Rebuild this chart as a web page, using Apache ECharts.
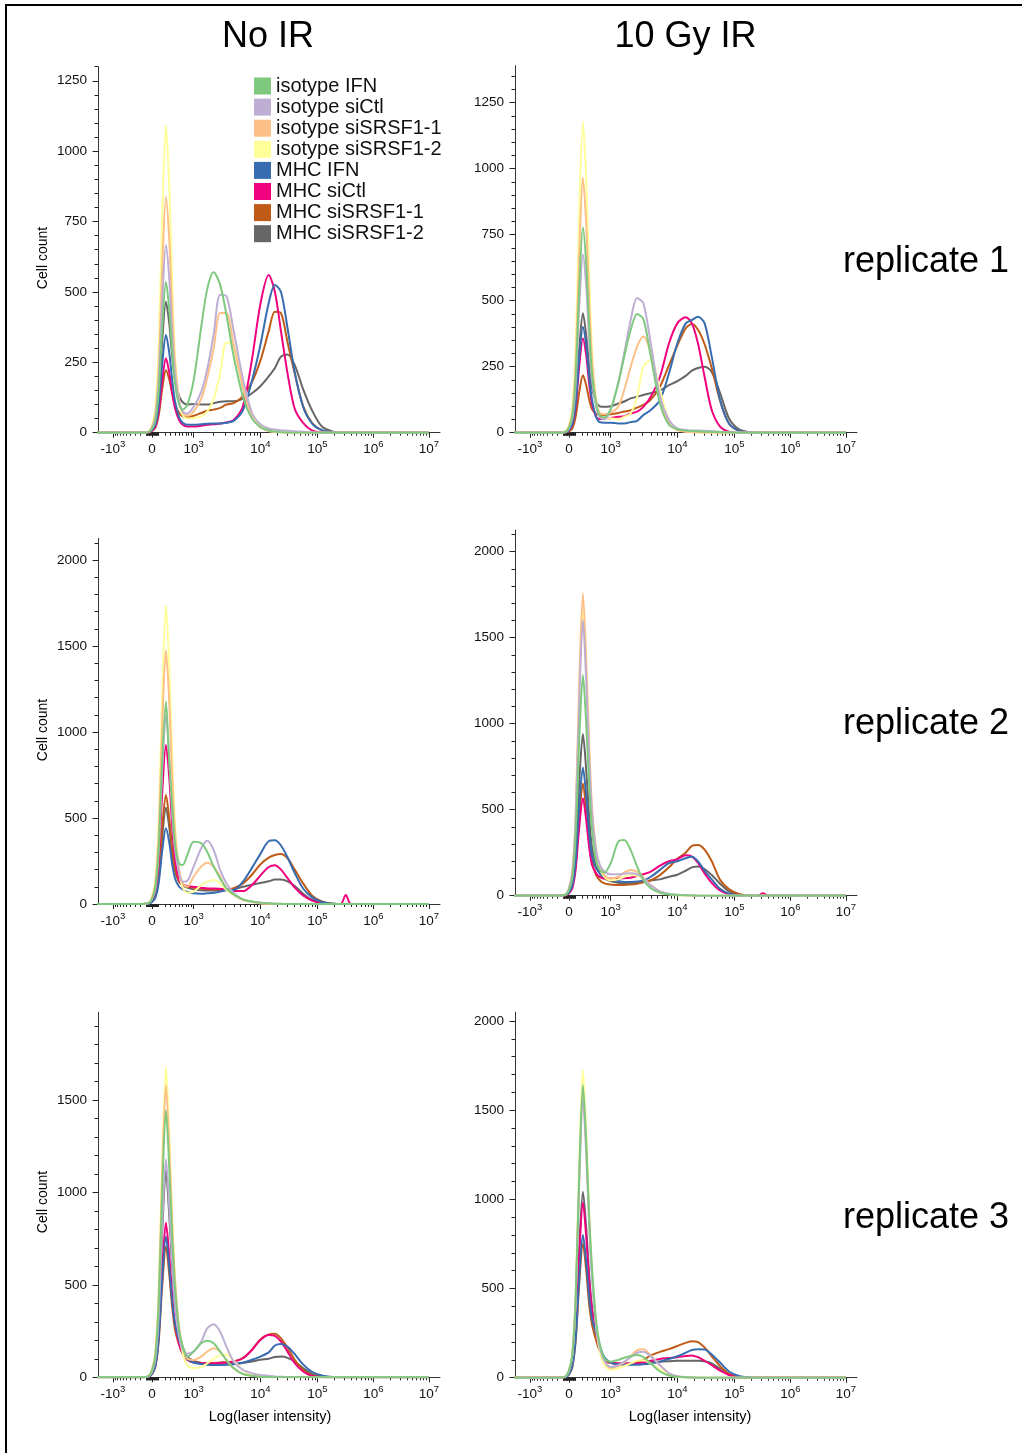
<!DOCTYPE html>
<html>
<head>
<meta charset="utf-8">
<title>MHC surface staining, flow cytometry histograms</title>
<script src="https://cdn.jsdelivr.net/npm/echarts@6.0.0/dist/echarts.min.js"></script>
<style>
  html, body { margin: 0; padding: 0; background: #ffffff; }
  #chart { width: 1024px; height: 1453px; }
</style>
</head>
<body>
<div id="chart"></div>
<script>
// ---------------------------------------------------------------------------
// Samples (legend order) and the intensity bins shared by every histogram
// ---------------------------------------------------------------------------
const SAMPLES = ['isotype IFN', 'isotype siCtl', 'isotype siSRSF1-1', 'isotype siSRSF1-2',
                 'MHC IFN', 'MHC siCtl', 'MHC siSRSF1-1', 'MHC siSRSF1-2'];

const INTENSITY = [-2000, -150, -50, 0, 50, 100, 160, 220, 280, 340, 400, 500, 600, 750,
                   1000, 1300, 1600, 2000, 2500, 3100, 4000, 5500, 7500, 10000, 14000, 18000,
                   23000, 30000, 40000, 56000, 80000, 120000, 200000, 260000, 320000, 400000, 10000000];

// major x ticks: base "10" with the exponent set as a superscript
const X_TICK_VALUES = [-1000, 0, 1000, 1e4, 1e5, 1e6, 1e7];
const X_TICK_BASES = ['-10', '0', '10', '10', '10', '10', '10'];
const X_TICK_EXPONENTS = ['3', '', '3', '4', '5', '6', '7'];

const Y_TICKS_REP1 = [0, 250, 500, 750, 1000, 1250];
const Y_TICKS_REP2 = [0, 500, 1000, 1500, 2000];
const Y_TICKS_NOIR_REP3 = [0, 500, 1000, 1500];
const Y_TICKS_IR_REP3 = [0, 500, 1000, 1500, 2000];

// ---- No IR, replicate 1 ----
const noIR1_isotypeIFN    = [0,0,3,13,43,145,385,536,440,285,175,100,82,100,185,375,510,570,525,420,270,128,50,20,8,4,2,0,0,0,0,0,0,0,0,0,0];
const noIR1_isotypeSiCtl  = [0,0,3,17,53,180,480,667,550,350,205,110,75,68,92,145,225,350,490,485,360,190,70,30,15,11,9,7,5,3,1,0,0,0,0,0,0];
const noIR1_isotypeSRSF1a = [0,0,4,21,67,226,600,838,690,435,250,115,72,60,75,120,195,300,425,425,310,160,55,20,6,3,1,0,0,0,0,0,0,0,0,0,0];
const noIR1_isotypeSRSF1b = [0,0,5,27,87,295,787,1093,880,540,280,110,62,50,52,58,75,120,210,320,310,180,70,25,8,3,1,0,0,0,0,0,0,0,0,0,0];
const noIR1_mhcIFN        = [0,0,2,9,28,94,250,347,285,185,112,55,35,28,28,30,32,33,33,35,42,80,185,310,460,525,500,370,215,92,33,9,1,0,0,0,0];
const noIR1_mhcSiCtl      = [0,0,1,7,21,71,190,264,215,140,88,45,28,22,22,25,28,30,33,36,45,95,260,455,560,500,360,210,85,35,8,1,0,0,0,0,0];
const noIR1_mhcSRSF1a     = [0,0,1,6,18,60,160,222,190,140,100,70,58,55,60,70,78,82,88,100,105,130,180,255,360,430,425,320,210,95,35,8,1,0,0,0,0];
const noIR1_mhcSRSF1b     = [0,0,2,12,37,125,335,465,390,270,190,130,108,100,102,100,100,105,110,112,112,120,140,165,200,230,270,278,240,155,80,22,2,0,0,0,0];

// ---- 10 Gy IR, replicate 1 ----
const ir1_isotypeIFN    = [0,0,4,20,62,210,560,778,640,400,225,110,65,58,88,187,288,390,450,430,290,111,30,13,8,6,5,4,3,2,1,0,0,0,0,0,0];
const ir1_isotypeSiCtl  = [0,0,3,17,54,180,485,675,555,350,200,100,60,50,86,187,300,427,510,490,338,136,48,16,10,8,8,7,6,4,2,0,0,0,0,0,0];
const ir1_isotypeSRSF1a = [0,0,5,24,77,260,695,967,790,500,280,120,75,70,75,98,162,250,326,364,300,136,35,10,4,2,1,0,0,0,0,0,0,0,0,0,0];
const ir1_isotypeSRSF1b = [0,0,6,30,95,320,850,1178,960,600,320,125,65,50,55,50,60,73,136,250,275,162,48,16,5,2,1,0,0,0,0,0,0,0,0,0,0];
const ir1_mhcIFN        = [0,0,2,10,32,108,290,400,330,210,125,60,40,38,38,35,35,40,45,67,86,124,225,338,414,427,439,414,288,124,35,8,1,0,0,0,0];
const ir1_mhcSiCtl      = [0,0,2,9,29,96,257,357,293,185,110,60,52,52,55,60,62,73,80,98,136,212,338,414,437,414,338,212,86,23,4,0,0,0,0,0,0];
const ir1_mhcSRSF1a     = [0,0,1,5,17,59,157,218,180,125,90,72,68,67,70,75,80,85,95,105,125,175,255,330,395,412,390,335,245,120,35,8,1,0,0,0,0];
const ir1_mhcSRSF1b     = [0,0,2,11,36,122,325,452,370,250,170,118,100,98,100,110,118,130,136,143,150,160,180,195,215,235,245,250,230,150,55,13,1,0,0,0,0];

// ---- No IR, replicate 2 ----
const noIR2_isotypeIFN    = [0,0,6,30,95,320,850,1176,830,566,353,236,227,285,362,353,304,217,149,91,56,27,14,8,4,2,1,0,0,0,0,0,0,0,0,0,0];
const noIR2_isotypeSiCtl  = [0,0,5,28,88,300,795,1100,850,520,320,180,130,135,217,324,368,314,198,120,62,27,14,8,4,2,1,0,0,0,0,0,0,0,0,0,0];
const noIR2_isotypeSRSF1a = [0,0,7,37,118,400,1065,1477,1180,740,420,200,120,100,159,217,240,217,159,91,52,23,12,5,2,1,0,0,0,0,0,0,0,0,0,0,0];
const noIR2_isotypeSRSF1b = [0,0,9,43,139,470,1250,1738,1390,860,470,190,95,65,72,110,130,140,120,81,52,27,14,5,2,1,0,0,0,0,0,0,0,0,0,0,0];
const noIR2_mhcIFN        = [0,0,2,11,35,119,317,440,360,230,150,100,85,70,62,60,62,65,72,80,82,130,210,290,365,370,340,270,180,90,40,12,1,0,0,0,0];
const noIR2_mhcSiCtl      = [0,0,5,23,74,250,665,924,740,450,260,140,115,105,100,95,90,90,88,85,75,75,110,165,215,226,200,150,95,50,20,5,0,0,52,0,0];
const noIR2_mhcSRSF1a     = [0,0,3,16,51,171,456,634,500,320,200,130,110,100,95,90,85,85,85,85,92,120,170,230,270,285,290,265,200,120,50,15,1,0,0,0,0];
const noIR2_mhcSRSF1b     = [0,0,3,14,45,151,403,560,450,290,190,130,110,95,85,80,78,78,80,82,88,100,112,122,132,142,142,132,105,60,25,6,0,0,0,0,0];

// ---- 10 Gy IR, replicate 2 ----
const ir2_isotypeIFN    = [0,0,6,32,103,346,924,1283,1000,640,385,200,150,135,188,314,324,265,169,91,43,17,8,4,2,1,0,0,0,0,0,0,0,0,0,0,0];
const ir2_isotypeSiCtl  = [0,0,8,40,128,433,1154,1603,1250,800,480,260,180,140,125,125,128,130,125,100,60,25,10,5,2,1,0,0,0,0,0,0,0,0,0,0,0];
const ir2_isotypeSRSF1a = [0,0,9,44,141,475,1266,1758,1370,880,520,270,175,120,100,110,135,150,140,105,60,25,10,4,2,1,0,0,0,0,0,0,0,0,0,0,0];
const ir2_isotypeSRSF1b = [0,0,8,41,132,446,1188,1650,1290,820,480,250,160,110,90,95,110,120,115,95,55,20,8,3,1,0,0,0,0,0,0,0,0,0,0,0,0];
const ir2_mhcIFN        = [0,0,4,19,60,201,537,746,580,360,230,160,130,110,95,85,80,80,82,88,110,150,190,200,218,226,200,145,95,40,12,3,0,0,0,0,0];
const ir2_mhcSiCtl      = [0,0,3,14,45,153,408,566,440,280,180,130,110,100,100,100,102,105,115,125,140,175,200,212,235,228,190,130,75,30,8,1,0,0,14,0,0];
const ir2_mhcSRSF1a     = [0,0,3,16,52,176,470,653,500,320,200,120,90,72,65,62,62,65,70,78,90,120,165,215,250,290,295,268,200,92,38,10,0,0,0,0,0];
const ir2_mhcSRSF1b     = [0,0,5,24,75,254,677,940,730,460,280,180,130,100,85,75,72,72,75,80,88,95,110,122,145,165,170,155,120,70,25,5,0,0,0,0,0];

// ---- No IR, replicate 3 ----
const noIR3_isotypeIFN    = [0,0,7,36,116,390,1040,1446,1140,760,490,260,165,110,139,184,198,184,139,94,49,18,8,3,1,0,0,0,0,0,0,0,0,0,0,0,0];
const noIR3_isotypeSiCtl  = [0,0,6,29,94,318,850,1179,930,620,400,220,150,128,139,193,265,287,247,166,85,40,22,12,8,5,3,1,0,0,0,0,0,0,0,0,0];
const noIR3_isotypeSRSF1a = [0,0,8,40,126,427,1140,1581,1250,830,530,270,160,100,94,112,139,157,139,94,49,18,8,3,1,0,0,0,0,0,0,0,0,0,0,0,0];
const noIR3_isotypeSRSF1b = [0,0,8,42,134,454,1210,1680,1320,870,540,250,130,65,50,55,75,100,120,122,90,40,12,4,1,0,0,0,0,0,0,0,0,0,0,0,0];
const noIR3_mhcIFN        = [0,0,4,19,61,205,548,761,600,410,290,200,150,100,80,72,68,67,67,68,70,80,95,112,135,172,180,165,125,70,30,10,1,0,0,0,0];
const noIR3_mhcSiCtl      = [0,0,4,21,67,226,602,836,660,440,290,180,130,95,80,76,76,76,78,80,85,103,148,202,229,224,193,139,76,31,7,1,0,0,0,0,0];
const noIR3_mhcSRSF1a     = [0,0,4,18,57,191,509,707,560,380,260,175,125,95,82,78,78,78,80,82,85,105,150,205,232,235,210,160,95,40,10,2,0,0,0,0,0];
const noIR3_mhcSRSF1b     = [0,0,6,28,90,302,806,1120,880,600,400,240,165,110,90,78,72,70,70,70,72,78,85,95,100,110,112,105,85,50,18,5,0,0,0,0,0];

// ---- 10 Gy IR, replicate 3 ----
const ir3_isotypeIFN    = [0,0,8,41,131,443,1180,1641,1330,900,620,320,190,108,90,100,112,122,127,115,80,35,12,5,2,1,0,0,0,0,0,0,0,0,0,0,0];
const ir3_isotypeSiCtl  = [0,0,8,39,125,421,1123,1560,1260,850,560,290,170,95,60,70,90,115,140,145,120,70,25,8,3,1,0,0,0,0,0,0,0,0,0,0,0];
const ir3_isotypeSRSF1a = [0,0,8,40,128,432,1152,1600,1290,870,580,300,170,95,55,65,85,120,155,160,125,70,25,8,3,1,0,0,0,0,0,0,0,0,0,0,0];
const ir3_isotypeSRSF1b = [0,0,9,43,138,466,1242,1725,1390,930,600,290,150,70,45,52,65,80,95,98,80,45,15,5,2,0,0,0,0,0,0,0,0,0,0,0,0];
const ir3_mhcIFN        = [0,0,4,20,64,216,576,800,650,450,330,250,180,115,85,75,72,72,73,75,80,90,105,120,140,155,160,158,130,85,35,10,1,0,0,0,0];
const ir3_mhcSiCtl      = [0,0,5,25,79,265,708,983,790,540,380,250,165,105,85,80,80,80,82,85,95,105,110,115,122,125,115,95,70,40,15,3,0,0,0,0,0];
const ir3_mhcSRSF1a     = [0,0,4,19,60,203,542,753,600,410,300,210,150,100,82,80,80,82,85,100,125,145,160,178,195,205,200,170,120,65,22,5,0,0,0,0,0];
const ir3_mhcSRSF1b     = [0,0,5,26,83,282,751,1043,840,570,400,260,170,110,85,78,75,75,77,80,88,90,92,95,95,95,95,92,80,50,18,4,0,0,0,0,0];

// ---------------------------------------------------------------------------
// Styling
// ---------------------------------------------------------------------------
const SAMPLE_COLORS = ['#7fc97f', '#beaed4', '#fdc086', '#ffff99',
                       '#386cb0', '#f0027f', '#bf5b17', '#666666'];
const FONT = '"Liberation Sans", Arial, Helvetica, sans-serif';
const AXIS_COLOR = '#333333';

// ---------------------------------------------------------------------------
// Biexponential display scale: arcsinh near zero, logarithmic per decade above 10^3
// ---------------------------------------------------------------------------
const LIN_WIDTH = 350;
const POS_SPAN = 41.6;   // display units from 0 to 10^3
const NEG_SPAN = 39;     // display units from 0 to -10^3
const DECADE_POS = [[3, 41.6], [4, 108.3], [5, 165.5], [6, 221.5], [7, 277]];
const X_MIN = -54, X_MAX = 288;

function toDisplay(v) {
  const a = Math.asinh(1000 / LIN_WIDTH);
  if (v >= 0 && v <= 1000) return POS_SPAN * Math.asinh(v / LIN_WIDTH) / a;
  if (v < 0 && v >= -1000) return NEG_SPAN * Math.asinh(v / LIN_WIDTH) / a;
  if (v < -1000) return -NEG_SPAN - 55 * Math.log10(-v / 1000);
  const d = Math.log10(v);
  for (let i = 0; i < DECADE_POS.length - 1; i++) {
    const [d0, p0] = DECADE_POS[i];
    const [d1, p1] = DECADE_POS[i + 1];
    if (d <= d1) return p0 + (p1 - p0) * (d - d0) / (d1 - d0);
  }
  return 277 + 55.5 * (d - 7);
}

// minor ticks of the biexponential axis
const X_MINOR_VALUES = [];
for (let k = 1; k <= 9; k++) {
  X_MINOR_VALUES.push(-k * 10, k * 10, -k * 100, k * 100);
}
for (let e = 3; e <= 6; e++) {
  for (let k = 2; k <= 9; k++) X_MINOR_VALUES.push(k * Math.pow(10, e));
}
const X_MAJOR_POS = X_TICK_VALUES.map(toDisplay);
const X_MINOR_POS = X_MINOR_VALUES.map(toDisplay).filter(p => p > X_MIN && p < X_MAX);

function xLabel(value) {
  for (let i = 0; i < X_MAJOR_POS.length; i++) {
    if (Math.abs(X_MAJOR_POS[i] - value) < 0.01) {
      const exp = X_TICK_EXPONENTS[i];
      return '{b|' + X_TICK_BASES[i] + '}' + (exp ? '{e|' + exp + '}' : '');
    }
  }
  return '';
}

// ---------------------------------------------------------------------------
// Panel layout
// ---------------------------------------------------------------------------
const COL_LEFT = [98, 515];
const PANEL_WIDTH = 342;

const PANELS = [
  { col: 0, top: 66.7,  height: 366,   yMax: 1300, yTicks: Y_TICKS_REP1, yMinorStep: 50,
    counts: [noIR1_isotypeIFN, noIR1_isotypeSiCtl, noIR1_isotypeSRSF1a, noIR1_isotypeSRSF1b,
             noIR1_mhcIFN, noIR1_mhcSiCtl, noIR1_mhcSRSF1a, noIR1_mhcSRSF1b] },
  { col: 1, top: 65.7,  height: 367,   yMax: 1390, yTicks: Y_TICKS_REP1, yMinorStep: 50,
    counts: [ir1_isotypeIFN, ir1_isotypeSiCtl, ir1_isotypeSRSF1a, ir1_isotypeSRSF1b,
             ir1_mhcIFN, ir1_mhcSiCtl, ir1_mhcSRSF1a, ir1_mhcSRSF1b] },
  { col: 0, top: 538.5, height: 365.5, yMax: 2125, yTicks: Y_TICKS_REP2, yMinorStep: 100,
    counts: [noIR2_isotypeIFN, noIR2_isotypeSiCtl, noIR2_isotypeSRSF1a, noIR2_isotypeSRSF1b,
             noIR2_mhcIFN, noIR2_mhcSiCtl, noIR2_mhcSRSF1a, noIR2_mhcSRSF1b] },
  { col: 1, top: 530.2, height: 365.5, yMax: 2125, yTicks: Y_TICKS_REP2, yMinorStep: 100,
    counts: [ir2_isotypeIFN, ir2_isotypeSiCtl, ir2_isotypeSRSF1a, ir2_isotypeSRSF1b,
             ir2_mhcIFN, ir2_mhcSiCtl, ir2_mhcSRSF1a, ir2_mhcSRSF1b] },
  { col: 0, top: 1012.2, height: 365.1, yMax: 1975, yTicks: Y_TICKS_NOIR_REP3, yMinorStep: 100,
    counts: [noIR3_isotypeIFN, noIR3_isotypeSiCtl, noIR3_isotypeSRSF1a, noIR3_isotypeSRSF1b,
             noIR3_mhcIFN, noIR3_mhcSiCtl, noIR3_mhcSRSF1a, noIR3_mhcSRSF1b] },
  { col: 1, top: 1012.1, height: 365.6, yMax: 2050, yTicks: Y_TICKS_IR_REP3, yMinorStep: 100,
    counts: [ir3_isotypeIFN, ir3_isotypeSiCtl, ir3_isotypeSRSF1a, ir3_isotypeSRSF1b,
             ir3_mhcIFN, ir3_mhcSiCtl, ir3_mhcSRSF1a, ir3_mhcSRSF1b] }
];

// ---------------------------------------------------------------------------
// Build grids, axes and series (each panel: one grid for major ticks + data,
// one overlapping grid carrying the short minor ticks)
// ---------------------------------------------------------------------------
const grids = [], xAxes = [], yAxes = [], series = [];

PANELS.forEach((p, i) => {
  const box = { left: COL_LEFT[p.col], top: p.top, width: PANEL_WIDTH, height: p.height,
                containLabel: false, outerBoundsMode: 'none' };
  grids.push(Object.assign({}, box), Object.assign({}, box));
  const gMajor = 2 * i, gMinor = 2 * i + 1;

  const yMinor = [];
  for (let v = p.yMinorStep; v <= p.yMax; v += p.yMinorStep) {
    if (p.yTicks.indexOf(v) < 0) yMinor.push(v);
  }

  xAxes.push({
    type: 'value', gridIndex: gMajor, min: X_MIN, max: X_MAX,
    axisLine: { show: true, onZero: false, lineStyle: { color: AXIS_COLOR, width: 1 } },
    axisTick: { show: true, customValues: X_MAJOR_POS, length: 5, lineStyle: { color: '#222', width: 1 } },
    axisLabel: {
      show: true, customValues: X_MAJOR_POS, formatter: xLabel, margin: 7,
      color: '#111', fontFamily: FONT,
      rich: {
        b: { fontSize: 13.5, lineHeight: 17, verticalAlign: 'bottom', color: '#111', fontFamily: FONT },
        e: { fontSize: 9.5, lineHeight: 10, verticalAlign: 'top', color: '#111', fontFamily: FONT }
      }
    },
    splitLine: { show: false }
  }, {
    type: 'value', gridIndex: gMinor, min: X_MIN, max: X_MAX,
    axisLine: { show: false, onZero: false },
    axisTick: { show: true, customValues: X_MINOR_POS, length: 3, lineStyle: { color: '#222', width: 1 } },
    axisLabel: { show: false },
    splitLine: { show: false }
  });

  yAxes.push({
    type: 'value', gridIndex: gMajor, min: 0, max: p.yMax,
    axisLine: { show: true, onZero: false, lineStyle: { color: AXIS_COLOR, width: 1 } },
    axisTick: { show: true, customValues: p.yTicks, length: 5.5, lineStyle: { color: '#222', width: 1 } },
    axisLabel: { show: true, customValues: p.yTicks, margin: 11, formatter: v => String(v),
                 fontSize: 13.5, fontFamily: FONT, color: '#111' },
    splitLine: { show: false }
  }, {
    type: 'value', gridIndex: gMinor, min: 0, max: p.yMax,
    axisLine: { show: false, onZero: false },
    axisTick: { show: true, customValues: yMinor, length: 3.5, lineStyle: { color: '#222', width: 1 } },
    axisLabel: { show: false },
    splitLine: { show: false }
  });

  // isotype IFN is drawn last so it sits on top
  for (let s = SAMPLES.length - 1; s >= 0; s--) {
    const counts = p.counts[s];
    series.push({
      type: 'line',
      name: SAMPLES[s],
      xAxisIndex: gMajor,
      yAxisIndex: gMajor,
      data: INTENSITY.map((v, k) => [toDisplay(v), counts[k]]),
      showSymbol: false,
      symbol: 'none',
      smooth: 0.3,
      lineStyle: { width: 2, color: SAMPLE_COLORS[s] },
      itemStyle: { color: SAMPLE_COLORS[s] },
      emphasis: { disabled: true },
      silent: true
    });
  }
});

// ---------------------------------------------------------------------------
// Headings, replicate labels, axis titles and the frame
// ---------------------------------------------------------------------------
function textEl(text, x, y, size, opts) {
  return Object.assign({
    type: 'text', x: x, y: y, silent: true,
    style: { text: text, font: size + 'px ' + FONT, fill: '#000',
             textAlign: 'center', textVerticalAlign: 'middle' }
  }, opts || {});
}

const graphics = [
  { type: 'line', silent: true, shape: { x1: 5, y1: 5, x2: 1022, y2: 5 }, style: { stroke: '#000', lineWidth: 2 } },
  { type: 'line', silent: true, shape: { x1: 6, y1: 4, x2: 6, y2: 1453 }, style: { stroke: '#000', lineWidth: 2 } },
  textEl('No IR', 268, 37.5, 36),
  textEl('10 Gy IR', 685.5, 37.5, 36)
];
[['replicate 1', 262], ['replicate 2', 724], ['replicate 3', 1218]].forEach(([t, y]) => {
  const el = textEl(t, 843, y, 36);
  el.style.textAlign = 'left';
  graphics.push(el);
});
[258, 730, 1202].forEach(y => {
  graphics.push(textEl('Cell count', 43, y, 14, { rotation: Math.PI / 2 }));
});
[270, 690].forEach(x => {
  graphics.push(textEl('Log(laser intensity)', x, 1416.5, 14.5));
});

// ---------------------------------------------------------------------------
const chart = echarts.init(document.getElementById('chart'), null,
                           { renderer: 'canvas', width: 1024, height: 1453 });
chart.setOption({
  backgroundColor: '#ffffff',
  animation: false,
  textStyle: { fontFamily: FONT },
  grid: grids,
  xAxis: xAxes,
  yAxis: yAxes,
  legend: {
    data: SAMPLES,
    orient: 'vertical',
    left: 254, top: 76,
    padding: 0,
    itemWidth: 17, itemHeight: 17, itemGap: 1.1,
    icon: 'rect',
    selectedMode: false,
    textStyle: { fontSize: 20, lineHeight: 20, color: '#111', fontFamily: FONT }
  },
  tooltip: { show: false },
  series: series,
  graphic: graphics
});
</script>
</body>
</html>
